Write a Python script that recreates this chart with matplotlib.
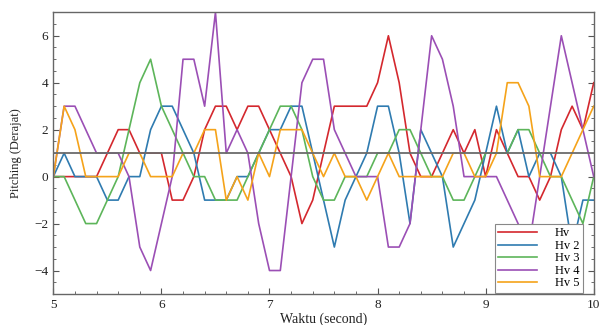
import matplotlib
matplotlib.use("Agg")
import matplotlib.pyplot as plt
from matplotlib.ticker import MultipleLocator

# time axis (second), sampled every 0.1 s
waktu = [5.0, 5.1, 5.2, 5.3, 5.4, 5.5, 5.6, 5.7, 5.8, 5.9,
         6.0, 6.1, 6.2, 6.3, 6.4, 6.5, 6.6, 6.7, 6.8, 6.9,
         7.0, 7.1, 7.2, 7.3, 7.4, 7.5, 7.6, 7.7, 7.8, 7.9,
         8.0, 8.1, 8.2, 8.3, 8.4, 8.5, 8.6, 8.7, 8.8, 8.9,
         9.0, 9.1, 9.2, 9.3, 9.4, 9.5, 9.6, 9.7, 9.8, 9.9,
         10.0]

hv1 = [0, 0, 0, 0, 0, 1, 2, 2, 1, 1,
       1, -1, -1, 0, 2, 3, 3, 2, 3, 3,
       2, 1, 0, -2, -1, 1, 3, 3, 3, 3,
       4, 6, 4, 1, 0, 0, 1, 2, 1, 2,
       0, 2, 1, 0, 0, -1, 0, 2, 3, 2,
       4]

hv2 = [0, 1, 0, 0, 0, -1, -1, 0, 0, 2,
       3, 3, 2, 1, -1, -1, -1, 0, 0, 1,
       2, 2, 3, 3, 1, -1, -3, -1, 0, 1,
       3, 3, 1, -2, 2, 1, 0, -3, -2, -1,
       1, 3, 1, 2, 0, 1, 1, 0, -3, -1,
       -1]

hv3 = [0, 0, -1, -2, -2, -1, 0, 2, 4, 5,
       3, 2, 1, 0, 0, -1, -1, -1, 0, 1,
       2, 3, 3, 2, 0, -1, -1, 0, 0, 0,
       1, 1, 2, 2, 1, 0, 0, -1, -1, 0,
       1, 1, 1, 2, 2, 1, 0, 0, -1, -2,
       0]

hv4 = [0, 3, 3, 2, 1, 1, 1, 0, -3, -4,
       -2, 0, 5, 5, 3, 7, 1, 2, 1, -2,
       -4, -4, 0, 4, 5, 5, 2, 1, 0, 0,
       0, -3, -3, -2, 2, 6, 5, 3, 0, 0,
       0, 0, -1, -2, -3, 0, 3, 6, 4, 2,
       0]

hv5 = [0, 3, 2, 0, 0, 0, 0, 1, 1, 0,
       0, 0, 1, 1, 2, 2, -1, 0, -1, 1,
       0, 2, 2, 2, 1, 0, 1, 0, 0, -1,
       0, 1, 0, 0, 0, 0, 0, 1, 1, 0,
       0, 1, 4, 4, 3, 0, 0, 0, 1, 2,
       3]

labels = ["Hv", "Hv 2", "Hv 3", "Hv 4", "Hv 5"]
colors = ["#d4282e", "#2f7bb0", "#5db55a", "#9b4fb5", "#f5a31a"]
ref_level = 1

plt.rcParams["font.family"] = ["Liberation Serif", "DejaVu Serif"]

fig = plt.figure(figsize=(6.04, 3.25), dpi=100)
ax = fig.add_axes([0.0883, 0.0954, 0.8947, 0.8668])

for y, lab, c in zip([hv1, hv2, hv3, hv4, hv5], labels, colors):
    ax.plot(waktu, y, color=c, lw=1.2, label=lab)

ax.axhline(ref_level, color="#6b6b6b", lw=1.3, zorder=3)

ax.set_xlim(5, 10)
ax.set_ylim(-5, 7)
ax.set_xticks([5, 6, 7, 8, 9, 10])
ax.set_yticks([-4, -2, 0, 2, 4, 6])
ax.xaxis.set_minor_locator(MultipleLocator(0.2))
ax.yaxis.set_minor_locator(MultipleLocator(0.5))
ax.tick_params(which="both", direction="in", right=True, top=False,
               colors="#555555", labelcolor="#222222", labelsize=9.5)
ax.tick_params(which="major", length=4)
ax.tick_params(which="minor", length=2.5)
for s in ax.spines.values():
    s.set_color("#666666")
    s.set_linewidth(1.0)

ax.set_xlabel("Waktu (second)", fontsize=10, labelpad=1, color="#222222")
ax.set_ylabel("Pitching (Derajat)", fontsize=9, labelpad=9, color="#222222")

leg = ax.legend(loc="lower right", bbox_to_anchor=(0.980, 0.003),
                borderaxespad=0, fontsize=9, handlelength=3.1,
                handletextpad=1.4, labelspacing=0.04, borderpad=0.3,
                fancybox=False, framealpha=1, edgecolor="#888888")
leg.get_frame().set_linewidth(0.8)
leg.set_zorder(5)

fig.savefig("out.png", dpi=100)
